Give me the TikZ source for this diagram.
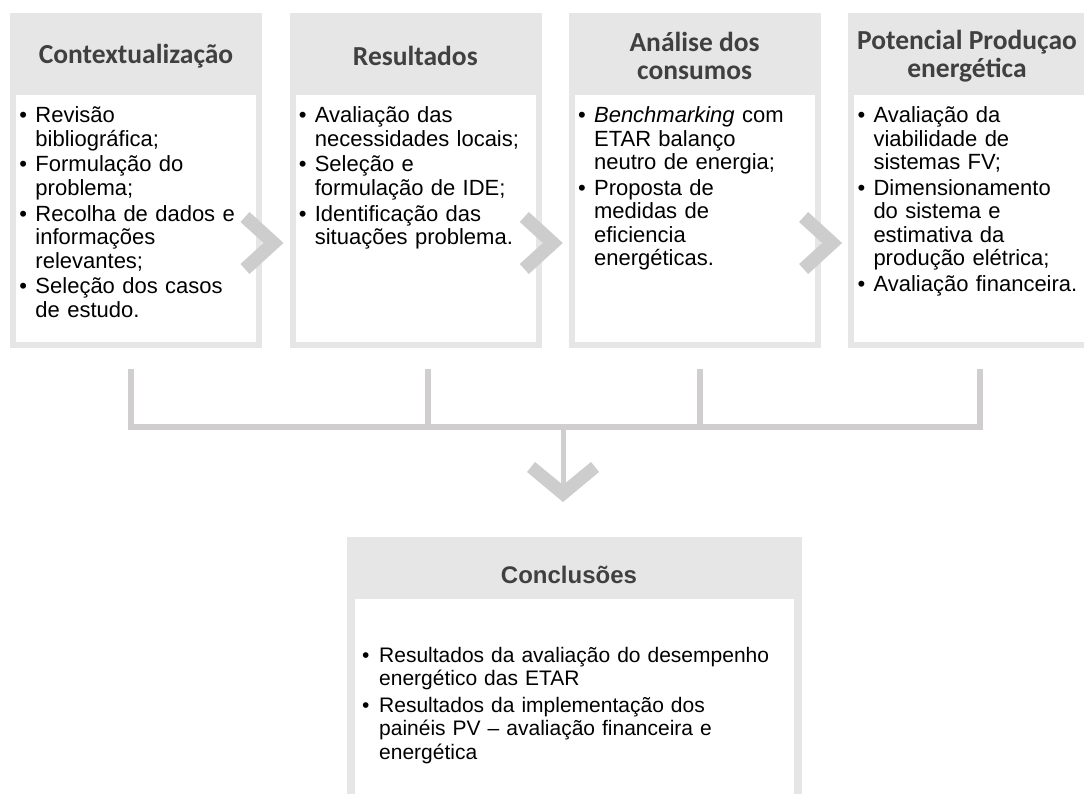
\documentclass[tikz,border=0pt]{standalone}
\usepackage{fontspec}
\setmainfont{Liberation Sans}
\newfontfamily\headfont{Carlito}
\definecolor{boxgray}{HTML}{E6E6E6}
\definecolor{headgray}{HTML}{404040}
\definecolor{chevgray}{HTML}{CDCDCD}
\definecolor{linkgray}{HTML}{D0CECE}
\newcommand{\fixskip}{\setlength{\lineskiplimit}{-100pt}\setlength{\parskip}{0pt}}
\newcommand{\bitem}[1]{\noindent\hangindent=16pt\hangafter=1%
  \makebox[16pt][l]{\textbullet}#1\par\vspace{2.5pt}}
\newcommand{\citem}[1]{\noindent\hangindent=19pt\hangafter=1%
  \makebox[19pt][l]{\hspace{2pt}\textbullet}#1\par\vspace{4pt}}
\newcommand{\jline}[1]{\makebox[\dimexpr\hsize-19pt\relax][s]{#1}}

\begin{document}
\begin{tikzpicture}[x=1pt,y=-1pt,
    outerbox/.style={fill=boxgray, anchor=north west, inner sep=0pt,
        minimum width=252pt, minimum height=335pt},
    innerbox/.style={fill=white, anchor=north west, inner sep=0pt,
        minimum width=240pt, minimum height=247pt},
    head/.style={font=\headfont\bfseries\fontsize{27.5}{28.5}\selectfont,
        text=headgray, align=center, inner sep=0pt},
    body/.style={anchor=base west, inner sep=0pt, text width=238pt,
        font=\fontsize{22}{23.4}\selectfont\fixskip},
    chev/.style={fill=chevgray},
    link/.style={draw=linkgray, line width=6.5pt}]
  \fill[white] (0,0) rectangle (1084,794);
  \useasboundingbox (0,0) rectangle (1084,794);
  \foreach \i/\x in {1/10,2/289.3,3/568.6,4/848} {
    \node[outerbox] (box\i) at (\x,13) {};
    \node[innerbox] (in\i) at (\x+6,95) {};
  }
  \foreach \c in {260.5,539.8,819.1}
    \fill[chev] (\c-20,222) -- (\c-11,212) -- (\c+23,243) -- (\c-11,274)
      -- (\c-20,264) -- (\c+3,243) -- cycle;
  \node[head] (h1) at (136,56) {Contextualização};
  \node[head] (h2) at (415.3,56) {Resultados};
  \node[head] (h3) at (694.6,56) {Análise dos\\consumos};
  \node[head] (h4) at (967,56) {Potencial Produçao\\energética};
  \node[body] (t1) at (19.3,122.7) {\bitem{Revisão\newline bibliográfica;}%
    \bitem{Formulação do\newline problema;}%
    \bitem{Recolha de dados e\newline informações\newline relevantes;}%
    \bitem{Seleção dos casos\newline de estudo.}};
  \node[body] (t2) at (298.6,122.7) {\bitem{Avaliação das\newline necessidades locais;}%
    \bitem{Seleção e\newline formulação de IDE;}%
    \bitem{Identificação das\newline situações problema.}};
  \node[body] (t3) at (577.9,122.7) {\bitem{\textit{Benchmarking} com\newline ETAR balanço\newline neutro de energia;}%
    \bitem{Proposta de\newline medidas de\newline eficiencia\newline energéticas.}};
  \node[body] (t4) at (857.3,122.7) {\bitem{Avaliação da\newline viabilidade de\newline sistemas FV;}%
    \bitem{Dimensionamento\newline do sistema e\newline estimativa da\newline produção elétrica;}%
    \bitem{Avaliação financeira.}};
  \coordinate (d1) at (131,369);
  \coordinate (d2) at (428,369);
  \coordinate (d3) at (700,369);
  \coordinate (d4) at (980,369);
  \coordinate (hub) at (563,427);
  \coordinate (dn) at (563,487);
  \draw[link] (d1) |- (hub) (d4) |- (hub);
  \draw[link] (d2) -- (d2 |- hub) (d3) -- (d3 |- hub);
  \draw[link, line width=5pt] (hub) -- (dn);
  \fill[chev] (527,472) -- (535,462) -- (563,485) -- (591,462) -- (599,472)
    -- (563,502) -- cycle;
  \node[outerbox, minimum width=455pt, minimum height=270pt] (box5) at (347,537) {};
  \node[innerbox, minimum width=439pt, minimum height=210pt] (in5) at (355,599) {};
  \node[font=\bfseries\fontsize{24}{26}\selectfont, text=headgray,
    anchor=base] (h5) at (569,583) {Conclusões};
  \node[body, text width=411pt, font=\fontsize{21}{23.3}\selectfont\fixskip]
    (t5) at (360,662)
    {\citem{\jline{Resultados da avaliação do desempenho}\newline energético das ETAR}%
     \citem{\jline{Resultados da implementação dos}\newline
       \jline{painéis PV -- avaliação financeira e}\newline energética}};
\end{tikzpicture}
\end{document}
